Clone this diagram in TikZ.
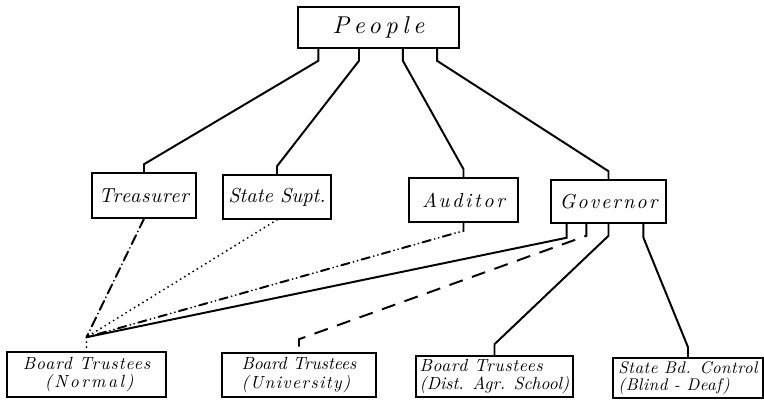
\documentclass[tikz,border=0pt]{standalone}
\usepackage{fontspec}
\usetikzlibrary{calc}
\newfontfamily\mano{lmroman10}[Extension=.otf,UprightFont=*-italic]
\newcommand{\espaciado}[1]{\addfontfeature{LetterSpace=#1}}

\begin{document}
\begin{tikzpicture}[x=0.025cm,y=-0.025cm,
  caja/.style={draw,line width=1.1pt,inner sep=0pt,font=\mano},
  abajo/.style={caja,align=left,font=\mano\fontsize{12.5}{13}\selectfont},
  linea/.style={line width=1.4pt},
  puntos/.style={line width=1.5pt,line cap=round,dash pattern=on 0pt off 3.5pt},
  rayapunto/.style={line width=1.4pt,line cap=round,dash pattern=on 7pt off 3pt on 0pt off 3pt},
  rayapuntos/.style={line width=1.4pt,line cap=round,dash pattern=on 6pt off 3pt on 0pt off 3pt on 0pt off 3pt},
  rayas/.style={line width=1.4pt,dash pattern=on 10pt off 7pt}]
\useasboundingbox (0,0) rectangle (764,400);

% El pueblo arriba
\node[caja,minimum width=4.025cm,minimum height=1.025cm,font=\mano\LARGE\espaciado{19}] (people) at (378.5,27.5) {People};

% Los cuatro cargos elegidos
\node[caja,minimum width=2.6cm,minimum height=1.125cm,font=\mano\Large\espaciado{4}] (treasurer) at (144,195.5) {Treasurer};
\node[caja,minimum width=2.7cm,minimum height=1.1cm,font=\mano\Large] (supt) at (277,197) {State Supt.};
\node[caja,minimum width=2.725cm,minimum height=1.1cm,font=\mano\Large\espaciado{13}] (auditor) at (463.5,200) {Auditor};
\node[caja,minimum width=2.875cm,minimum height=1.075cm,font=\mano\Large\espaciado{10}] (governor) at (608.5,201.5) {Governor};

% Las juntas de abajo
\node[abajo,minimum width=3.975cm,minimum height=1.125cm] (normal) at (86.5,374.5) {{\espaciado{6}Board Trustees}\\\hspace*{0.55cm}{\espaciado{14}(Normal)}};
\node[abajo,minimum width=3.85cm,minimum height=1.1cm] (university) at (299,375) {Board Trustees\\{\espaciado{8}(University)}};
\node[abajo,minimum width=3.925cm,minimum height=1.025cm] (dist) at (494.5,376.5) {{\espaciado{4}Board Trustees}\\(Dist. Agr. School)};
\node[abajo,minimum width=3.75cm,minimum height=1.0cm,font=\mano\fontsize{12}{12.5}\selectfont] (statebd) at (688,378) {{\espaciado{3}State Bd. Control}\\{\espaciado{3}(Blind - Deaf)}};

% Del pueblo a cada cargo
\draw[linea] ($(people.south west)!.13!(people.south east)$) -- ++(0,12) -- ($(treasurer.north)+(0,-8)$) -- (treasurer.north);
\draw[linea] ($(people.south west)!.38!(people.south east)$) -- ++(0,12) -- ($(supt.north)+(0,-8)$) -- (supt.north);
\draw[linea] ($(people.south west)!.65!(people.south east)$) -- ++(0,12) -- ($(auditor.north)+(0,-8)$) -- (auditor.north);
\draw[linea] ($(people.south west)!.86!(people.south east)$) -- ++(0,12) -- ($(governor.north)+(0,-8)$) -- (governor.north);

% Todas las lineas llegan juntas a la normal
\coordinate (junta) at ($(normal.north)+(0,-14)$);
\draw[puntos] (junta) -- (normal.north);
\draw[rayapunto] (treasurer.south) -- (junta);
\draw[puntos] (supt.south) -- (junta);
\draw[rayapuntos] (auditor.south) -- ++(0,8) -- (junta);
\draw[linea] ($(governor.south west)!.14!(governor.south east)$) -- ++(0,14) -- (junta);

% Del gobernador a las otras juntas
\draw[rayas] ($(governor.south west)!.31!(governor.south east)$) -- ++(0,12) -- ($(university.north)+(0,-13)$) -- (university.north);
\draw[linea] (governor.south) -- ++(0,12) -- ($(dist.north)+(0,-11)$) -- (dist.north);
\draw[linea] ($(governor.south west)!.8!(governor.south east)$) -- ++(0,14) -- ($(statebd.north)+(0,-10)$) -- (statebd.north);
\end{tikzpicture}
\end{document}
